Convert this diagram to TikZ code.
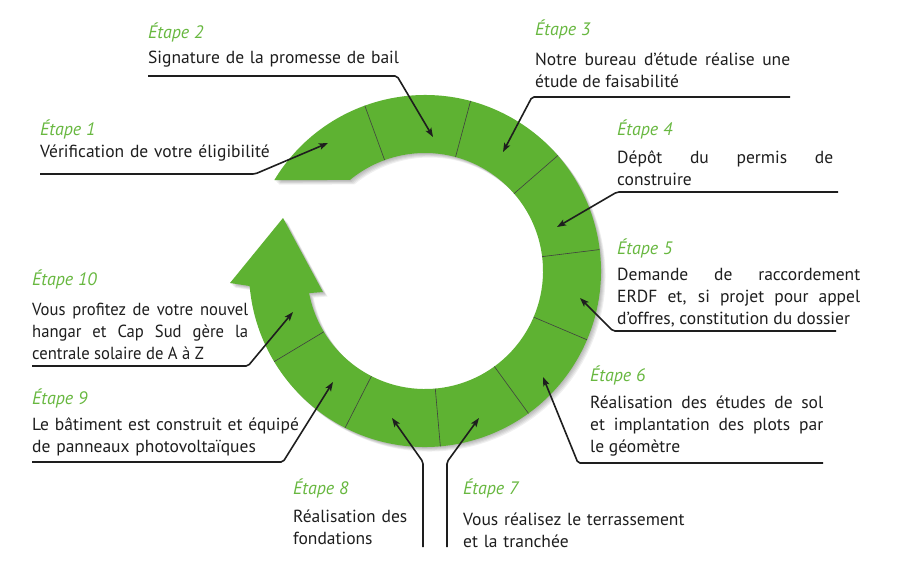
\documentclass[tikz,border=0pt]{standalone}
\usepackage{fontspec}
\setmainfont{PT Sans}
\newfontfamily\narrowfont{PT Sans}[FakeStretch=0.95]
\usetikzlibrary{arrows.meta}
\definecolor{ringgreen}{RGB}{94,178,50}
\definecolor{stepgreen}{RGB}{104,184,64}
\definecolor{inkgray}{RGB}{30,30,30}
% ring with its arrow head, drawn round the origin
\newcommand{\ringshape}{(-148.9:176) arc[start angle=-148.9, end angle=175.1, radius=176]
  -- (-195,12) -- (-142,-53) -- (-102,21)
  -- (169.2:118) arc[start angle=169.2, end angle=-129.5, radius=118] -- cycle}
\begin{document}
\begin{tikzpicture}[x=1pt, y=-1pt,
  stepname/.style={anchor=base west, inner sep=0pt, text=stepgreen,
    font=\fontsize{18}{22}\selectfont\itshape},
  stepdesc/.style={anchor=base west, inner sep=0pt, text=inkgray, align=left,
    text width=#1, font=\fontsize{17.5}{22}\selectfont},
  stepdesc/.default=320,
  justdesc/.style={stepdesc=#1, align=justify},
  divider/.style={draw=black!75, line width=0.6pt},
  leader/.style={draw=inkgray, line width=1.6pt, rounded corners=2pt,
    -{Stealth[length=9pt, width=6.5pt, inset=2pt]}}
]
  \useasboundingbox[fill=white] (0,0) rectangle (900,563);

  % Shadow and ring
  \foreach \s in {1,...,5}
    \fill[black, opacity=0.06, shift={(425+\s*0.9,271+\s*0.9)}] \ringshape;
  \begin{scope}[shift={(425,271)}]
    \fill[ringgreen] \ringshape;
    \foreach \a in {-110,-75,-41,-7,23,54,85,117,149}
      \draw[divider] (\a:118) -- (\a:176);
  \end{scope}

  % Steps
  \node[stepname] (s1) at (40,135) {Étape 1};
  \node[stepdesc] (d1) at (40,157) {Vérification de votre éligibilité};
  \node[stepname] (s2) at (148,38) {Étape 2};
  \node[stepdesc] (d2) at (148,63) {Signature de la promesse de bail};
  \node[stepname] (s3) at (535,35) {Étape 3};
  \node[justdesc=255] (d3) at (535,65) {Notre bureau d’étude réalise une\linebreak étude de faisabilité};
  \node[stepname] (s4) at (617,135) {Étape 4};
  \node[justdesc=216] (d4) at (617,163) {Dépôt du permis de\linebreak construire};
  \node[stepname] (s5) at (617,254) {Étape 5};
  \node[justdesc=243] (d5) at (617,280) {Demande de raccordement\linebreak ERDF et, si projet pour appel\linebreak d’offres, constitution du dossier};
  \node[stepname] (s6) at (590,381) {Étape 6};
  \node[justdesc=233] (d6) at (590,408) {Réalisation des études de sol\linebreak et implantation des plots par\linebreak le géomètre};
  \node[stepname] (s7) at (463,494) {Étape 7};
  \node[stepdesc] (d7) at (463,525) {Vous réalisez le terrassement\\et la tranchée};
  \node[stepname] (s8) at (293,494) {Étape 8};
  \node[stepdesc=120] (d8) at (293,522) {Réalisation des\\fondations};
  \node[stepname] (s9) at (32,404) {Étape 9};
  \node[stepdesc] (d9) at (32,430) {Le bâtiment est construit et équipé\\de panneaux photovoltaïques};
  \node[stepname] (s10) at (32,285) {Étape 10};
  \node[justdesc=216, font=\narrowfont\fontsize{17.5}{22}\selectfont] (d10) at (32,315) {Vous profitez de votre nouvel\linebreak hangar et Cap Sud gère la\linebreak centrale solaire de A à Z};

  % Leader points
  \coordinate (u1) at (40,174);   \coordinate (k1) at (255,174);  \coordinate (t1) at (328,143);
  \coordinate (u2) at (148,76);   \coordinate (k2) at (397,76);   \coordinate (t2) at (433,137);
  \coordinate (u3) at (790,97);   \coordinate (k3) at (532,97);   \coordinate (t3) at (503,152);
  \coordinate (u4) at (838,192);  \coordinate (k4) at (617,192);  \coordinate (t4) at (557,227);
  \coordinate (u5) at (836,331);  \coordinate (k5) at (613,331);  \coordinate (t5) at (580,298);
  \coordinate (u6) at (823,463);  \coordinate (k6) at (578,463);  \coordinate (t6) at (543,377);
  \coordinate (u7) at (447,547);  \coordinate (k7) at (447,462);  \coordinate (t7) at (479,418);
  \coordinate (u8) at (423,547);  \coordinate (k8) at (423,462);  \coordinate (t8) at (392,418);
  \coordinate (u9) at (32,462);   \coordinate (k9) at (283,462);  \coordinate (t9) at (333,382);
  \coordinate (u10) at (32,366);  \coordinate (k10) at (248,366); \coordinate (t10) at (293,312);

  % Leaders
  \foreach \i in {1,...,10}
    \draw[leader] (u\i) -- (k\i) -- (t\i);
\end{tikzpicture}
\end{document}
